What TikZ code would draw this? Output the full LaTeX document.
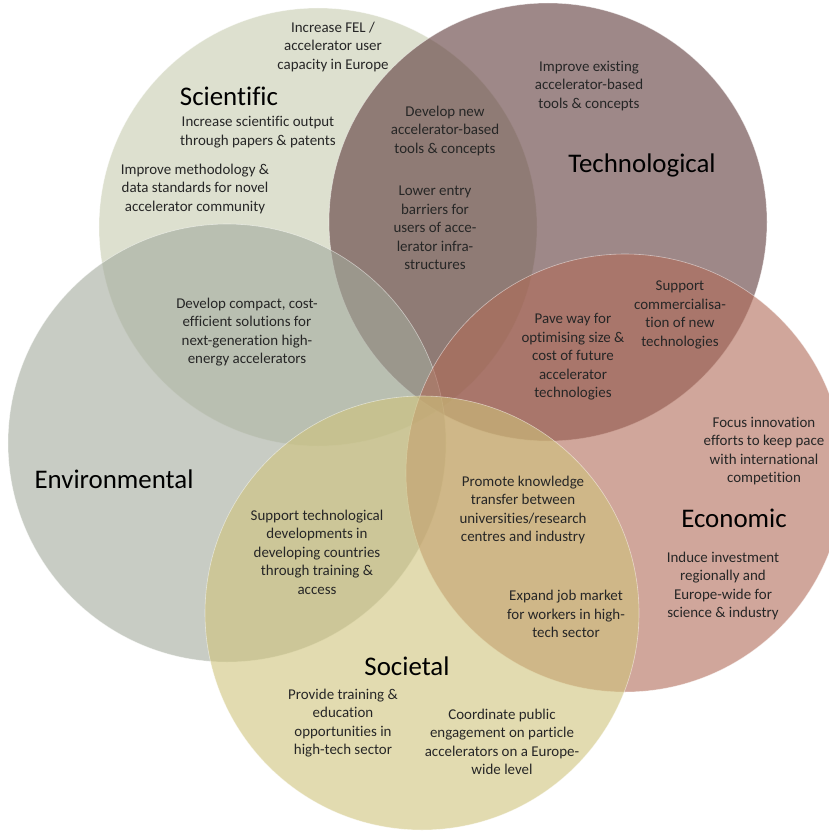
\documentclass[tikz,border=0pt]{standalone}
\usepackage{fontspec}
\setmainfont[Ligatures=NoCommon]{Carlito}
\usetikzlibrary{positioning}
\definecolor{scicol}{RGB}{198,203,175}
\definecolor{teccol}{RGB}{93,57,57}
\definecolor{envcol}{RGB}{163,170,157}
\definecolor{ecocol}{RGB}{177,107,88}
\definecolor{soccol}{RGB}{207,195,123}
\definecolor{inkcol}{RGB}{38,38,38}

\begin{document}
\begin{tikzpicture}[x=1bp,y=-1bp,
  zone/.style={circle,inner sep=0pt,minimum size=438bp,fill opacity=0.6,
    draw=white,draw opacity=0.5,line width=0.6bp},
  goal/.style={align=center,inner sep=0pt,text=inkcol,
    font=\fontsize{15}{18.5}\selectfont},
  area/.style={inner sep=0pt,text=black,font=\fontsize{27}{32}\selectfont}]
\useasboundingbox (0,0) rectangle (829,832);
\clip (0,0) rectangle (829,832);

% the five circles
\node[zone,fill=scicol] (sci) at (318,227) {};
\node[zone,fill=teccol] (tec) at (548,222) {};
\node[zone,fill=envcol] (env) at (227,443) {};
\node[zone,fill=ecocol] (eco) at (625,473) {};
\node[zone,fill=soccol,minimum size=434bp] (soc) at (422,613) {};

% circle titles
\node[area] (scititle) at (229,96) {Scientific};
\node[area] (tectitle) at (642,165) {Technological};
\node[area] (envtitle) at (114,479) {Environmental};
\node[area] (ecotitle) at (734,518) {Economic};
\node[area] (soctitle) at (407,666) {Societal};

% goals
\node[goal] (fel) at (333,47) {Increase FEL /\\accelerator user\\capacity in Europe};
\node[goal] (output) at (258,132) {Increase scientific output\\through papers \& patents};
\node[goal] (method) at (195,189) {Improve methodology \&\\data standards for novel\\accelerator community};
\node[goal] (compact) at (247,332) {Develop compact, cost-\\efficient solutions for\\next-generation high-\\energy accelerators};
\node[goal] (newtools) at (445,131) {Develop new\\accelerator-based\\tools \& concepts};
\node[goal] (entry) at (435,228) {Lower entry\\barriers for\\users of acce-\\lerator infra-\\structures};
\node[goal] (existing) at (589,86) {Improve existing\\accelerator-based\\tools \& concepts};
\node[goal] (commerce) at (680,315) {Support\\commercialisa-\\tion of new\\technologies};
\node[goal] (paveway) at (573,357) {Pave way for\\optimising size \&\\cost of future\\accelerator\\technologies};
\node[goal] (focus) at (764,451) {Focus innovation\\efforts to keep pace\\with international\\competition};
\node[goal] (invest) at (723,586) {Induce investment\\regionally and\\Europe-wide for\\science \& industry};
\node[goal] (transfer) at (523,510) {Promote knowledge\\transfer between\\universities/research\\centres and industry};
\node[goal] (jobs) at (566,614) {Expand job market\\for workers in high-\\tech sector};
\node[goal] (outreach) at (502,742) {Coordinate public\\engagement on particle\\accelerators on a Europe-\\wide level};
\node[goal] (develop) at (317,552) {Support technological\\developments in\\developing countries\\through training \&\\access};
\node[goal] (training) at (343,723) {Provide training \&\\education\\opportunities in\\high-tech sector};
\end{tikzpicture}
\end{document}
